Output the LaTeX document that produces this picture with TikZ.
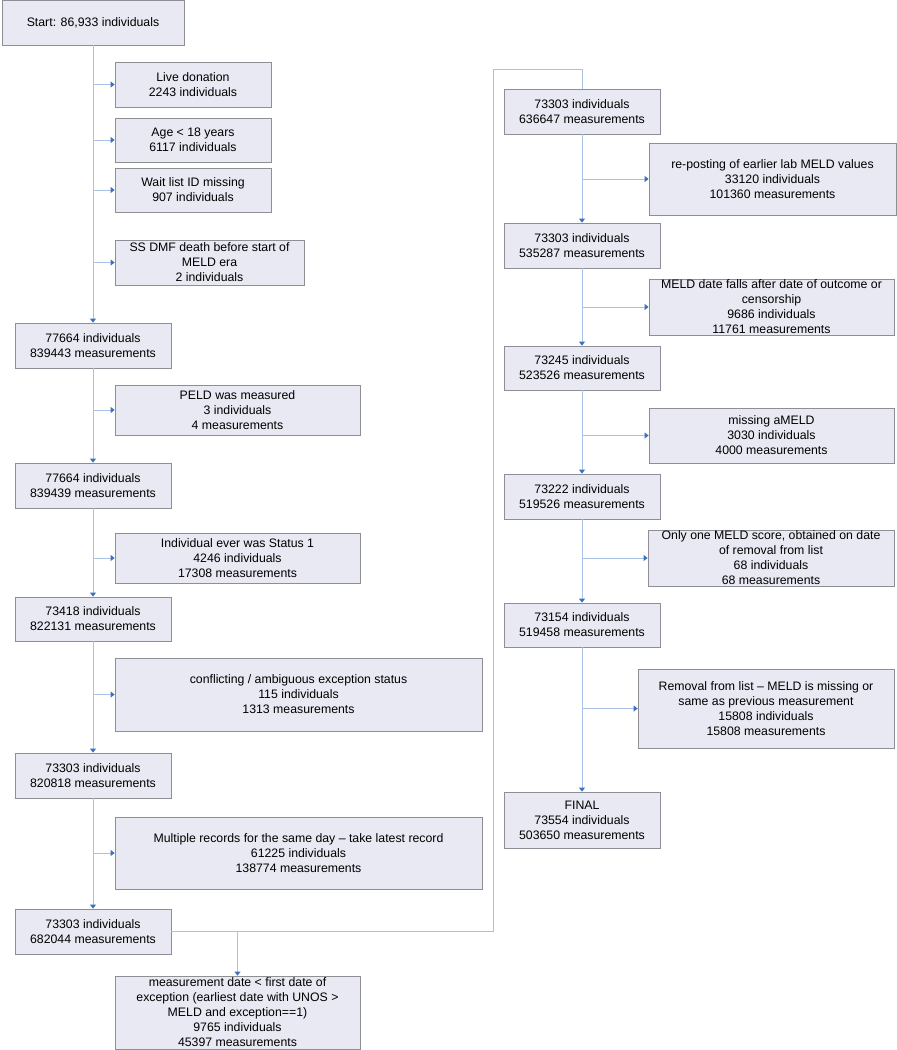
\documentclass[tikz,border=0pt]{standalone}
\usepackage{fontspec}
\setmainfont{Liberation Sans}
\usetikzlibrary{arrows.meta}
\definecolor{boxfill}{HTML}{E8E9F2}
\definecolor{boxline}{HTML}{8E8E94}
\definecolor{flowline}{HTML}{A9C2E6}
\definecolor{tipblue}{HTML}{3F6FC0}

\begin{document}
\begin{tikzpicture}[x=0.03cm,y=-0.03cm,
    box/.style={draw=boxline,fill=boxfill,line width=0.6pt,align=center,inner sep=0pt,
                font=\fontsize{10.5}{12.8}\selectfont},
    sz/.style 2 args={minimum width=#1*0.03cm,minimum height=#2*0.03cm},
    flow/.style={draw=flowline,line width=0.8pt,-{Triangle[length=3.4pt,width=5pt,color=tipblue]}},
    link/.style={draw=flowline,line width=0.8pt}]
\useasboundingbox (0,0) rectangle (897,1050);

% left column
\node[box,sz={182}{45}] (start) at (93,22.5) {Start: 86,933 individuals};
\node[box,sz={156}{45}] (live) at (193,84.5) {Live donation\\2243 individuals};
\node[box,sz={156}{44}] (age) at (193,140) {Age < 18 years\\6117 individuals};
\node[box,sz={156}{44}] (wait) at (193,190) {Wait list ID missing\\907 individuals};
\node[box,sz={189}{45}] (ssdmf) at (209.5,262.5) {SS DMF death before start of\\MELD era\\2 individuals};
\node[box,sz={156}{45}] (n1) at (93,345.5) {77664 individuals\\839443 measurements};
\node[box,sz={245}{50}] (peld) at (237.5,410) {PELD was measured\\3 individuals\\4 measurements};
\node[box,sz={156}{45}] (n2) at (93,485.5) {77664 individuals\\839439 measurements};
\node[box,sz={245}{50}] (stat) at (237.5,558) {Individual ever was Status 1\\4246 individuals\\17308 measurements};
\node[box,sz={156}{44}] (n3) at (93,619) {73418 individuals\\822131 measurements};
\node[box,sz={367}{73}] (confl) at (298.5,694.5) {conflicting / ambiguous exception status\\115 individuals\\1313 measurements};
\node[box,sz={156}{45}] (n4) at (93,775.5) {73303 individuals\\820818 measurements};
\node[box,sz={367}{72}] (multi) at (298.5,853) {Multiple records for the same day -- take latest record\\61225 individuals\\138774 measurements};
\node[box,sz={156}{45}] (n5) at (93,931.5) {73303 individuals\\682044 measurements};
\node[box,sz={245}{73}] (mdate) at (237.5,1012.5) {measurement date < first date of\\exception (earliest date with UNOS >\\MELD and exception==1)\\9765 individuals\\45397 measurements};

% right column
\node[box,sz={156}{45}] (r1) at (582,111.5) {73303 individuals\\636647 measurements};
\node[box,sz={247}{72}] (repost) at (772.5,179) {re-posting of earlier lab MELD values\\33120 individuals\\101360 measurements};
\node[box,sz={156}{45}] (r2) at (582,245.5) {73303 individuals\\535287 measurements};
\node[box,sz={245}{56}] (after) at (771.5,307) {MELD date falls after date of outcome or\\censorship\\9686 individuals\\11761 measurements};
\node[box,sz={156}{44}] (r3) at (582,368) {73245 individuals\\523526 measurements};
\node[box,sz={245}{55}] (miss) at (771.5,435.5) {missing aMELD\\3030 individuals\\4000 measurements};
\node[box,sz={156}{45}] (r4) at (582,496.5) {73222 individuals\\519526 measurements};
\node[box,sz={246}{56}] (once) at (771,558) {Only one MELD score, obtained on date\\of removal from list\\68 individuals\\68 measurements};
\node[box,sz={156}{44}] (r5) at (582,625) {73154 individuals\\519458 measurements};
\node[box,sz={256}{79}] (remov) at (766,708.5) {Removal from list -- MELD is missing or\\same as previous measurement\\15808 individuals\\15808 measurements};
\node[box,sz={156}{56}] (final) at (582,820) {FINAL\\73554 individuals\\503650 measurements};

% turn from left column to right column
\coordinate (turnlo) at (493,931.5);
\coordinate (turnhi) at (493,69);

% main lines
\path[flow] (start) -- (n1);
\path[flow] (n1) -- (n2);
\path[flow] (n2) -- (n3);
\path[flow] (n3) -- (n4);
\path[flow] (n4) -- (n5);
\path[link] (n5.east) -- (turnlo) -- (turnhi) -- (turnhi -| r1.north) -- (r1.north);
\path[flow] (mdate.north |- n5.east) -- (mdate.north);
\path[flow] (r1) -- (r2);
\path[flow] (r2) -- (r3);
\path[flow] (r3) -- (r4);
\path[flow] (r4) -- (r5);
\path[flow] (r5) -- (final);

% exclusions
\path[flow] (start.south |- live.west) -- (live.west);
\path[flow] (start.south |- age.west) -- (age.west);
\path[flow] (start.south |- wait.west) -- (wait.west);
\path[flow] (start.south |- ssdmf.west) -- (ssdmf.west);
\path[flow] (n1.south |- peld.west) -- (peld.west);
\path[flow] (n2.south |- stat.west) -- (stat.west);
\path[flow] (n3.south |- confl.west) -- (confl.west);
\path[flow] (n4.south |- multi.west) -- (multi.west);
\path[flow] (r1.south |- repost.west) -- (repost.west);
\path[flow] (r2.south |- after.west) -- (after.west);
\path[flow] (r3.south |- miss.west) -- (miss.west);
\path[flow] (r4.south |- once.west) -- (once.west);
\path[flow] (r5.south |- remov.west) -- (remov.west);
\end{tikzpicture}
\end{document}
